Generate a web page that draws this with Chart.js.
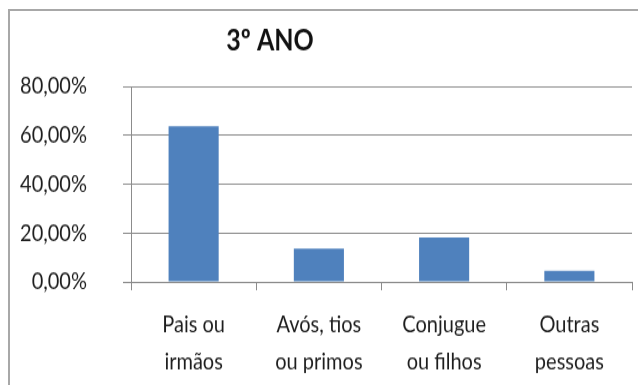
<!DOCTYPE html>
<html>
<head>
<meta charset="utf-8">
<script src="https://cdn.jsdelivr.net/npm/chart.js@4/dist/chart.umd.min.js"></script>
<style>
  body { margin: 0; background: #fff; overflow: hidden; }
  #frame {
    position: absolute; left: 8px; top: 9px; width: 700px; height: 400px;
    border-top: 2px solid #a8a8a8; border-left: 2px solid #a8a8a8;
  }
  /* chart drawn a little short, then stretched tall like the original sheet */
  #wrap {
    position: absolute; left: 0; top: 0; width: 638px; height: 321px;
    transform-origin: 0 0; transform: scaleY(1.1994);
  }
</style>
</head>
<body>
<div id="frame"></div>
<div id="wrap"><canvas id="chart"></canvas></div>
<script>
var chartTitle = '3º ANO';
var categories = [['Pais ou', 'irmãos'], ['Avós, tios', 'ou primos'], ['Conjugue', 'ou filhos'], ['Outras', 'pessoas']];
var values = [63.64, 13.64, 18.18, 4.55];
var yMax = 80;
var yStep = 20;

var gridGray = '#8c8c8c';
var textColor = '#1e1e1e';
var fontFamily = 'Lato, "Open Sans", sans-serif';

// title sits left of centre, so it is drawn by hand
var titlePlugin = {
    id: 'sideTitle',
    afterDraw: function (chart) {
        var ctx = chart.ctx;
        ctx.save();
        ctx.font = 'bold 25px ' + fontFamily;
        ctx.fillStyle = '#111';
        ctx.textAlign = 'center';
        ctx.textBaseline = 'middle';
        ctx.fillText(chartTitle, 270, 34);
        ctx.restore();
    }
};

var ctx = document.querySelector('#chart').getContext('2d');

var chart = new Chart(ctx, {
    type: 'bar',
    data: {
        labels: categories,
        datasets: [{
            data: values,
            backgroundColor: '#4f81bd',
            borderWidth: 0,
            barPercentage: 0.4,
            categoryPercentage: 1
        }]
    },
    options: {
        responsive: true,
        maintainAspectRatio: false,
        animation: false,
        layout: { padding: { top: 72, right: 6, left: 0, bottom: 0 } },
        plugins: {
            legend: { display: false },
            tooltip: { enabled: false }
        },
        scales: {
            x: {
                afterFit: function (s) { s.height = 86; },
                grid: {
                    offset: true,
                    drawOnChartArea: false,
                    color: gridGray,
                    tickLength: 7
                },
                border: { color: gridGray },
                ticks: {
                    color: textColor,
                    font: { family: fontFamily, size: 20, lineHeight: 1.54 },
                    padding: 13,
                    maxRotation: 0,
                    autoSkip: false
                }
            },
            y: {
                min: 0,
                max: yMax,
                afterFit: function (s) { s.width = 131; },
                grid: { color: gridGray, tickLength: 8 },
                border: { color: gridGray },
                ticks: {
                    stepSize: yStep,
                    color: textColor,
                    padding: 36,
                    font: { family: fontFamily, size: 20 },
                    callback: function (v) { return v.toFixed(2).replace('.', ',') + '%'; }
                }
            }
        }
    },
    plugins: [titlePlugin]
});
</script>
</body>
</html>
